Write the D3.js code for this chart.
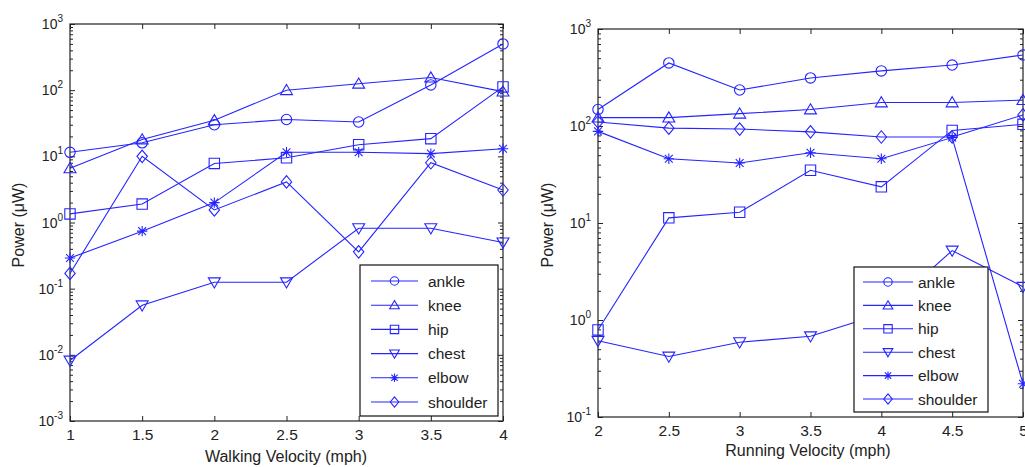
<!DOCTYPE html>
<html>
<head>
<meta charset="utf-8">
<script src="https://cdn.jsdelivr.net/npm/d3@7"></script>
<style>
  body { margin: 0; background: #fff; }
  svg { display: block; font-family: "Liberation Sans", Arial, sans-serif; }
  .tick text { fill: #222; }
</style>
</head>
<body>
<svg id="chart" width="1025" height="467"></svg>
<script>
// series names + marker shapes (same order as legend)
const joints = ['ankle', 'knee', 'hip', 'chest', 'elbow', 'shoulder'];
const markerShapes = ['circle', 'triangle', 'square', 'triangleDown', 'star', 'diamond'];

// walking panel
const walkVelocity = [1, 1.5, 2, 2.5, 3, 3.5, 4];
const walkAnkle = [11.5, 16, 30, 36, 33, 120, 500];
const walkKnee = [6.6, 18, 35, 100, 125, 155, 95];
const walkHip = [1.35, 1.9, 7.8, 9.5, 15, 18.5, 112];
const walkChest = [0.0082, 0.056, 0.125, 0.125, 0.82, 0.82, 0.5];
const walkElbow = [0.29, 0.74, 2.0, 11.5, 11.5, 11, 13];
const walkShoulder = [0.17, 10, 1.55, 4.1, 0.36, 8, 3.1];

// running panel
const runVelocity = [2, 2.5, 3, 3.5, 4, 4.5, 5];
const runAnkle = [148, 447, 235, 313, 370, 425, 540];
const runKnee = [122, 122, 134, 148, 175, 175, 185];
const runHip = [0.79, 11.3, 12.9, 35, 23.6, 90, 104];
const runChest = [0.61, 0.42, 0.59, 0.68, 1.15, 5.2, 2.2];
const runElbow = [88, 46, 41.5, 53, 46, 76, 0.22];
const runShoulder = [110, 95, 93, 87, 77, 77, 130];

const blue = '#2424ff';
const svg = d3.select('#chart');

// MATLAB-ish marker paths, centred on 0,0
function markerPath(shape, s) {
  switch (shape) {
    case 'circle':
      return `M${-s},0a${s},${s} 0 1,0 ${2 * s},0a${s},${s} 0 1,0 ${-2 * s},0Z`;
    case 'square':
      return `M${-s},${-s}H${s}V${s}H${-s}Z`;
    case 'triangle':
      return `M0,${-s * 1.1}L${s * 1.15},${s * 0.85}H${-s * 1.15}Z`;
    case 'triangleDown':
      return `M0,${s * 1.1}L${s * 1.15},${-s * 0.85}H${-s * 1.15}Z`;
    case 'diamond':
      return `M0,${-s * 1.2}L${s},0L0,${s * 1.2}L${-s},0Z`;
    case 'star': {
      const d = s * 0.75;
      return `M0,${-s}V${s}M${-s},0H${s}M${-d},${-d}L${d},${d}M${-d},${d}L${d},${-d}`;
    }
  }
}

function drawPanel(cfg) {
  const g = svg.append('g');
  const x = d3.scaleLinear().domain(cfg.xDomain).range([cfg.left, cfg.right]);
  const y = d3.scaleLog().domain(cfg.yDomain).range([cfg.bottom, cfg.top]);

  const majors = d3.range(Math.log10(cfg.yDomain[0]), Math.log10(cfg.yDomain[1]) + 1).map(e => Math.pow(10, e));
  const minors = [];
  majors.slice(0, -1).forEach(m => { for (let k = 2; k <= 9; k++) minors.push(m * k); });

  // box
  g.append('rect')
    .attr('x', cfg.left).attr('y', cfg.top)
    .attr('width', cfg.right - cfg.left).attr('height', cfg.bottom - cfg.top)
    .attr('fill', 'none').attr('stroke', '#222').attr('stroke-width', 1.2);

  // x axis (bottom + top, ticks inward)
  g.append('g')
    .attr('transform', `translate(0,${cfg.bottom})`)
    .call(d3.axisBottom(x).tickValues(cfg.xTicks).tickSizeInner(-5).tickSizeOuter(0).tickPadding(8)
      .tickFormat(d => d3.format('~g')(d)))
    .call(a => a.select('.domain').remove())
    .call(a => a.selectAll('text').attr('font-size', 15.5).attr('fill', '#222'))
    .call(a => a.selectAll('line').attr('stroke', '#222'));
  g.append('g')
    .attr('transform', `translate(0,${cfg.top})`)
    .call(d3.axisTop(x).tickValues(cfg.xTicks).tickSizeInner(-5).tickSizeOuter(0).tickFormat(''))
    .call(a => a.select('.domain').remove())
    .call(a => a.selectAll('line').attr('stroke', '#222'));

  // y axis, major + minor ticks on both sides
  [[d3.axisLeft, cfg.left], [d3.axisRight, cfg.right]].forEach(([ax, pos]) => {
    g.append('g')
      .attr('transform', `translate(${pos},0)`)
      .call(ax(y).tickValues(majors).tickSizeInner(-5).tickSizeOuter(0).tickFormat(''))
      .call(a => a.select('.domain').remove())
      .call(a => a.selectAll('line').attr('stroke', '#222'));
    g.append('g')
      .attr('transform', `translate(${pos},0)`)
      .call(ax(y).tickValues(minors).tickSizeInner(-3).tickSizeOuter(0).tickFormat(''))
      .call(a => a.select('.domain').remove())
      .call(a => a.selectAll('line').attr('stroke', '#222'));
  });

  // y tick labels: 10^n
  const lab = g.append('g').selectAll('text').data(majors).join('text')
    .attr('x', cfg.left - 7)
    .attr('y', d => y(d) + 5)
    .attr('text-anchor', 'end')
    .attr('fill', '#222');
  lab.append('tspan').attr('font-size', 14).text('10');
  lab.append('tspan').attr('font-size', 10).attr('dy', -7).text(d => Math.round(Math.log10(d)));

  // axis titles
  g.append('text')
    .attr('transform', `translate(${cfg.yLabelX},${cfg.yLabelY}) rotate(-90)`)
    .attr('text-anchor', 'middle').attr('font-size', 16).attr('fill', '#222')
    .text('Power (μW)');
  g.append('text')
    .attr('x', cfg.xLabelX).attr('y', cfg.xLabelY)
    .attr('text-anchor', 'middle').attr('font-size', 16).attr('fill', '#222')
    .text(cfg.xLabel);

  // series
  const line = d3.line().x(d => x(d[0])).y(d => y(d[1]));
  cfg.series.forEach((vals, i) => {
    const pts = cfg.velocity.map((v, j) => [v, vals[j]]);
    g.append('path').datum(pts)
      .attr('d', line)
      .attr('fill', 'none').attr('stroke', blue).attr('stroke-width', 1.1);
    g.append('g').selectAll('path').data(pts).join('path')
      .attr('transform', d => `translate(${x(d[0])},${y(d[1])})`)
      .attr('d', markerPath(markerShapes[i], 5.2))
      .attr('fill', 'none').attr('stroke', blue).attr('stroke-width', 1.1);
  });

  // legend
  const L = cfg.legend;
  const leg = g.append('g');
  leg.append('rect')
    .attr('x', L.x0).attr('y', L.y0)
    .attr('width', L.x1 - L.x0).attr('height', L.y1 - L.y0)
    .attr('fill', '#fff').attr('stroke', '#111').attr('stroke-width', 1.2);
  joints.forEach((name, i) => {
    const ry = L.firstRow + i * L.step;
    leg.append('line')
      .attr('x1', L.lineX0).attr('x2', L.lineX1).attr('y1', ry).attr('y2', ry)
      .attr('stroke', blue).attr('stroke-width', 1.1);
    leg.append('path')
      .attr('transform', `translate(${(L.lineX0 + L.lineX1) / 2},${ry})`)
      .attr('d', markerPath(markerShapes[i], 4.2))
      .attr('fill', 'none').attr('stroke', blue).attr('stroke-width', 1.1);
    leg.append('text')
      .attr('x', L.textX).attr('y', ry + 5.5)
      .attr('font-size', 15.5).attr('fill', '#222')
      .text(name);
  });
}

drawPanel({
  left: 70, right: 503, top: 24, bottom: 421,
  xDomain: [1, 4], yDomain: [1e-3, 1e3],
  xTicks: walkVelocity,
  velocity: walkVelocity,
  series: [walkAnkle, walkKnee, walkHip, walkChest, walkElbow, walkShoulder],
  xLabel: 'Walking Velocity (mph)', xLabelX: 286, xLabelY: 462,
  yLabelX: 24, yLabelY: 225,
  legend: { x0: 360, x1: 498, y0: 265, y1: 416, firstRow: 281, step: 24.2, lineX0: 371, lineX1: 418, textX: 428 }
});

drawPanel({
  left: 598, right: 1023, top: 29, bottom: 417,
  xDomain: [2, 5], yDomain: [1e-1, 1e3],
  xTicks: runVelocity,
  velocity: runVelocity,
  series: [runAnkle, runKnee, runHip, runChest, runElbow, runShoulder],
  xLabel: 'Running Velocity (mph)', xLabelX: 808, xLabelY: 456,
  yLabelX: 553, yLabelY: 225,
  legend: { x0: 854, x1: 988, y0: 267, y1: 412, firstRow: 282, step: 23.4, lineX0: 863, lineX1: 913, textX: 918 }
});
</script>
</body>
</html>
